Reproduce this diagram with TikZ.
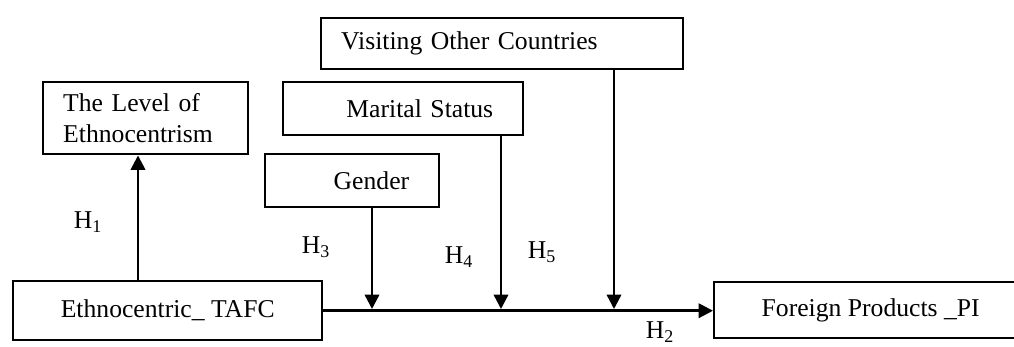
\documentclass[tikz,border=0pt]{standalone}
\usepackage{fontspec}
\setmainfont{Liberation Serif}
\usetikzlibrary{arrows.meta,positioning}
\tikzset{
  box/.style={draw=black,line width=1.4pt,anchor=north west,inner sep=0pt,font=\fontsize{14.6}{18}\selectfont},
  leftbox/.style={box,align=left,inner xsep=0.4cm},
  rightbox/.style={box,align=right,inner xsep=0.6cm},
  flow/.style={-{Triangle[length=2.9mm,width=2.9mm]},line width=1.4pt},
  hyp/.style={font=\fontsize{14.6}{18}\selectfont,inner sep=0pt}
}

\begin{document}
\begin{tikzpicture}[x=0.02cm,y=-0.02cm]
  \useasboundingbox (0,0) rectangle (1014,347);
  \node[leftbox,minimum width=4.1cm,minimum height=1.44cm,text width=3.3cm] (level) at (42,81) {The Level of\\Ethnocentrism};
  \node[leftbox,minimum width=7.24cm,minimum height=1.02cm,text width=6.44cm] (visit) at (320,17) {Visiting Other Countries};
  \node[rightbox,minimum width=4.8cm,minimum height=1.06cm,text width=3.6cm] (marital) at (282,81) {Marital Status};
  \node[rightbox,minimum width=3.48cm,minimum height=1.06cm,text width=2.28cm] (gender) at (264,153) {Gender};
  \node[box,minimum width=6.18cm,minimum height=1.18cm] (tafc) at (12,280) {Ethnocentric\_ TAFC};
  \node[box,minimum width=6.26cm,minimum height=1.12cm] (foreign) at (713,281) {Foreign Products \_PI};
  % where the moderators meet the main path
  \coordinate (gjoin) at (372,309);
  \coordinate (mjoin) at (501,309);
  \coordinate (vjoin) at (614,309);
  \draw[flow] (tafc.north -| 138,0) -- (level.south -| 138,0);
  \draw[flow] (tafc.east) -- (tafc.east -| foreign.west);
  \draw[flow] (gender.south -| gjoin) -- (gjoin);
  \draw[flow] (marital.south -| mjoin) -- (mjoin);
  \draw[flow] (visit.south -| vjoin) -- (vjoin);
  \node[hyp] (h1) at (88,222) {H\textsubscript{1}};
  \node[hyp] (h3) at (316,247) {H\textsubscript{3}};
  \node[hyp] (h4) at (459,257) {H\textsubscript{4}};
  \node[hyp] (h5) at (542,252) {H\textsubscript{5}};
  \node[hyp] (h2) at (660,332) {H\textsubscript{2}};
\end{tikzpicture}
\end{document}
